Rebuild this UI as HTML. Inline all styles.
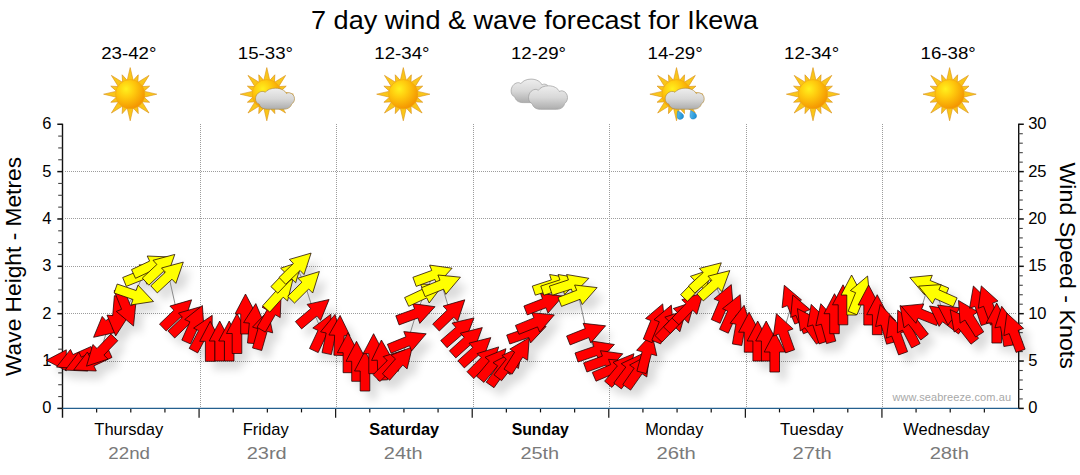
<!DOCTYPE html>
<html><head><meta charset="utf-8"><title>7 day wind &amp; wave forecast</title>
<style>html,body{margin:0;padding:0;background:#fff;}body{width:1080px;height:475px;overflow:hidden;font-family:"Liberation Sans",sans-serif;}svg{display:block;font-family:"Liberation Sans",sans-serif;}</style></head><body>
<svg width="1080" height="475" viewBox="0 0 1080 475">
<defs>
<radialGradient id="sunG" cx="0.36" cy="0.32" r="0.72"><stop offset="0" stop-color="#fff01e"/><stop offset="0.4" stop-color="#ffcb0e"/><stop offset="1" stop-color="#f39200"/></radialGradient>
<linearGradient id="rayG" gradientUnits="userSpaceOnUse" x1="-20" y1="-20" x2="20" y2="20"><stop offset="0" stop-color="#fdd41a"/><stop offset="1" stop-color="#f2a216"/></linearGradient>
<linearGradient id="cloudG" x1="0" y1="0" x2="0" y2="1"><stop offset="0" stop-color="#eeeeee"/><stop offset="0.5" stop-color="#d8d8d8"/><stop offset="1" stop-color="#adadad"/></linearGradient>
<linearGradient id="dropG" x1="0" y1="0" x2="1" y2="1"><stop offset="0" stop-color="#6cc8f5"/><stop offset="1" stop-color="#0f86cf"/></linearGradient>
<filter id="sh" x="-5%" y="-20%" width="110%" height="150%"><feGaussianBlur stdDeviation="4.2"/></filter>
<filter id="ib" x="-20%" y="-20%" width="140%" height="140%"><feGaussianBlur stdDeviation="0.45"/></filter>

<g id="sun"><g fill="url(#rayG)" stroke="#d9901a" stroke-width="0.6" stroke-linejoin="round"><polygon points="-3.3,-12.5 0,-26.6 3.3,-12.5" transform="rotate(0.0)"/><polygon points="-3.0,-12.5 0,-21.0 3.0,-12.5" transform="rotate(22.5)"/><polygon points="-3.3,-12.5 0,-26.6 3.3,-12.5" transform="rotate(45.0)"/><polygon points="-3.0,-12.5 0,-21.0 3.0,-12.5" transform="rotate(67.5)"/><polygon points="-3.3,-12.5 0,-26.6 3.3,-12.5" transform="rotate(90.0)"/><polygon points="-3.0,-12.5 0,-21.0 3.0,-12.5" transform="rotate(112.5)"/><polygon points="-3.3,-12.5 0,-26.6 3.3,-12.5" transform="rotate(135.0)"/><polygon points="-3.0,-12.5 0,-21.0 3.0,-12.5" transform="rotate(157.5)"/><polygon points="-3.3,-12.5 0,-26.6 3.3,-12.5" transform="rotate(180.0)"/><polygon points="-3.0,-12.5 0,-21.0 3.0,-12.5" transform="rotate(202.5)"/><polygon points="-3.3,-12.5 0,-26.6 3.3,-12.5" transform="rotate(225.0)"/><polygon points="-3.0,-12.5 0,-21.0 3.0,-12.5" transform="rotate(247.5)"/><polygon points="-3.3,-12.5 0,-26.6 3.3,-12.5" transform="rotate(270.0)"/><polygon points="-3.0,-12.5 0,-21.0 3.0,-12.5" transform="rotate(292.5)"/><polygon points="-3.3,-12.5 0,-26.6 3.3,-12.5" transform="rotate(315.0)"/><polygon points="-3.0,-12.5 0,-21.0 3.0,-12.5" transform="rotate(337.5)"/></g><circle r="14.6" fill="url(#sunG)" stroke="#eea214" stroke-width="0.5"/></g>
<path id="cloud" d="M12,23.5 C7,23.5 4.5,21 3.8,18 C1.5,17 0,14.8 0,12 C0,8 2.5,4.2 6.5,3.6 C8,3.4 9,3.9 9.8,4.6 C11.5,1.8 15.5,0 19.9,0 C25.5,0 29.6,2.6 30.9,5.8 C32,5 33,4.9 34,5.1 C37,5.7 39,8.5 39,11.8 C39,14.5 37.8,16.6 36,17.8 C35.6,21 32.5,23.5 28,23.5 Z"/>
<path id="drop" d="M0,-4.4 C2.4,-1.5 3.3,0.3 3.3,1.7 C3.3,3.5 1.8,4.7 0,4.7 C-1.8,4.7 -3.3,3.5 -3.3,1.7 C-3.3,0.3 -2,-1.8 0,-4.4 Z" transform="rotate(-25)"/>
</defs>
<rect width="1080" height="475" fill="#fff"/>
<text x="534.5" y="29.3" font-size="26.7" text-anchor="middle" textLength="447" lengthAdjust="spacingAndGlyphs" fill="#000">7 day wind &amp; wave forecast for Ikewa</text>
<text x="128.8" y="59.2" font-size="17.3" text-anchor="middle" textLength="55.2" lengthAdjust="spacingAndGlyphs" fill="#000">23-42°</text>
<use href="#sun" x="130.2" y="94.2"/>
<text x="265.4" y="59.2" font-size="17.3" text-anchor="middle" textLength="55.2" lengthAdjust="spacingAndGlyphs" fill="#000">15-33°</text>
<use href="#sun" x="266.8" y="94.2"/>
<use href="#cloud" transform="translate(255.5,88.2) scale(1,0.894)" fill="url(#cloudG)" stroke="#b08a3a" stroke-width="0.7"/>
<text x="401.9" y="59.2" font-size="17.3" text-anchor="middle" textLength="55.2" lengthAdjust="spacingAndGlyphs" fill="#000">12-34°</text>
<use href="#sun" x="403.3" y="94.2"/>
<text x="538.5" y="59.2" font-size="17.3" text-anchor="middle" textLength="55.2" lengthAdjust="spacingAndGlyphs" fill="#000">12-29°</text>
<use href="#cloud" x="511.1" y="79.1" fill="url(#cloudG)" stroke="#9c9c9c" stroke-width="0.7"/>
<use href="#cloud" x="528.5" y="85.8" fill="url(#cloudG)" stroke="#9c9c9c" stroke-width="0.7"/>
<text x="675.1" y="59.2" font-size="17.3" text-anchor="middle" textLength="55.2" lengthAdjust="spacingAndGlyphs" fill="#000">14-29°</text>
<use href="#sun" x="676.5" y="94.2"/>
<use href="#cloud" transform="translate(665.2,88.2) scale(1,0.894)" fill="url(#cloudG)" stroke="#b08a3a" stroke-width="0.7"/>
<use href="#drop" x="679.6" y="114.8" fill="url(#dropG)" stroke="#1b78b8" stroke-width="0.4"/>
<use href="#drop" x="692.6" y="114.5" fill="url(#dropG)" stroke="#1b78b8" stroke-width="0.4"/>
<text x="811.6" y="59.2" font-size="17.3" text-anchor="middle" textLength="55.2" lengthAdjust="spacingAndGlyphs" fill="#000">12-34°</text>
<use href="#sun" x="813.0" y="94.2"/>
<text x="948.2" y="59.2" font-size="17.3" text-anchor="middle" textLength="55.2" lengthAdjust="spacingAndGlyphs" fill="#000">16-38°</text>
<use href="#sun" x="949.6" y="94.2"/>
<g stroke="#9c9c9c" stroke-width="1" stroke-dasharray="1,1" fill="none" shape-rendering="crispEdges">
<line x1="65" y1="361.5" x2="1017" y2="361.5"/>
<line x1="65" y1="313.5" x2="1017" y2="313.5"/>
<line x1="65" y1="266.5" x2="1017" y2="266.5"/>
<line x1="65" y1="218.5" x2="1017" y2="218.5"/>
<line x1="65" y1="171.5" x2="1017" y2="171.5"/>
<line x1="200.5" y1="124" x2="200.5" y2="408"/>
<line x1="336.5" y1="124" x2="336.5" y2="408"/>
<line x1="473.5" y1="124" x2="473.5" y2="408"/>
<line x1="609.5" y1="124" x2="609.5" y2="408"/>
<line x1="746.5" y1="124" x2="746.5" y2="408"/>
<line x1="882.5" y1="124" x2="882.5" y2="408"/>
</g>
<g stroke="#111" stroke-width="1.4" fill="none">
<line x1="62.5" y1="123.65" x2="62.5" y2="417.7"/>
<line x1="1018.7" y1="123.65" x2="1018.7" y2="409.0"/>
</g>
<g stroke="#111" stroke-width="1.2" fill="none">
<line x1="57.3" y1="408.40" x2="62.5" y2="408.40" stroke-width="1.5"/>
<line x1="58.2" y1="396.56" x2="62.5" y2="396.56" stroke="#444" stroke-width="1.1"/>
<line x1="58.2" y1="384.72" x2="62.5" y2="384.72" stroke="#444" stroke-width="1.1"/>
<line x1="58.2" y1="372.88" x2="62.5" y2="372.88" stroke="#444" stroke-width="1.1"/>
<line x1="57.3" y1="361.04" x2="62.5" y2="361.04" stroke-width="1.5"/>
<line x1="58.2" y1="349.20" x2="62.5" y2="349.20" stroke="#444" stroke-width="1.1"/>
<line x1="58.2" y1="337.36" x2="62.5" y2="337.36" stroke="#444" stroke-width="1.1"/>
<line x1="58.2" y1="325.52" x2="62.5" y2="325.52" stroke="#444" stroke-width="1.1"/>
<line x1="57.3" y1="313.68" x2="62.5" y2="313.68" stroke-width="1.5"/>
<line x1="58.2" y1="301.84" x2="62.5" y2="301.84" stroke="#444" stroke-width="1.1"/>
<line x1="58.2" y1="290.00" x2="62.5" y2="290.00" stroke="#444" stroke-width="1.1"/>
<line x1="58.2" y1="278.16" x2="62.5" y2="278.16" stroke="#444" stroke-width="1.1"/>
<line x1="57.3" y1="266.32" x2="62.5" y2="266.32" stroke-width="1.5"/>
<line x1="58.2" y1="254.49" x2="62.5" y2="254.49" stroke="#444" stroke-width="1.1"/>
<line x1="58.2" y1="242.65" x2="62.5" y2="242.65" stroke="#444" stroke-width="1.1"/>
<line x1="58.2" y1="230.81" x2="62.5" y2="230.81" stroke="#444" stroke-width="1.1"/>
<line x1="57.3" y1="218.97" x2="62.5" y2="218.97" stroke-width="1.5"/>
<line x1="58.2" y1="207.13" x2="62.5" y2="207.13" stroke="#444" stroke-width="1.1"/>
<line x1="58.2" y1="195.29" x2="62.5" y2="195.29" stroke="#444" stroke-width="1.1"/>
<line x1="58.2" y1="183.45" x2="62.5" y2="183.45" stroke="#444" stroke-width="1.1"/>
<line x1="57.3" y1="171.61" x2="62.5" y2="171.61" stroke-width="1.5"/>
<line x1="58.2" y1="159.77" x2="62.5" y2="159.77" stroke="#444" stroke-width="1.1"/>
<line x1="58.2" y1="147.93" x2="62.5" y2="147.93" stroke="#444" stroke-width="1.1"/>
<line x1="58.2" y1="136.09" x2="62.5" y2="136.09" stroke="#444" stroke-width="1.1"/>
<line x1="57.3" y1="124.25" x2="62.5" y2="124.25" stroke-width="1.5"/>
<line x1="1018.5" y1="408.40" x2="1023.8" y2="408.40" stroke-width="1.5"/>
<line x1="1018.5" y1="398.93" x2="1022.8" y2="398.93" stroke="#444" stroke-width="1.1"/>
<line x1="1018.5" y1="389.46" x2="1022.8" y2="389.46" stroke="#444" stroke-width="1.1"/>
<line x1="1018.5" y1="379.98" x2="1022.8" y2="379.98" stroke="#444" stroke-width="1.1"/>
<line x1="1018.5" y1="370.51" x2="1022.8" y2="370.51" stroke="#444" stroke-width="1.1"/>
<line x1="1018.5" y1="361.04" x2="1023.8" y2="361.04" stroke-width="1.5"/>
<line x1="1018.5" y1="351.57" x2="1022.8" y2="351.57" stroke="#444" stroke-width="1.1"/>
<line x1="1018.5" y1="342.10" x2="1022.8" y2="342.10" stroke="#444" stroke-width="1.1"/>
<line x1="1018.5" y1="332.63" x2="1022.8" y2="332.63" stroke="#444" stroke-width="1.1"/>
<line x1="1018.5" y1="323.15" x2="1022.8" y2="323.15" stroke="#444" stroke-width="1.1"/>
<line x1="1018.5" y1="313.68" x2="1023.8" y2="313.68" stroke-width="1.5"/>
<line x1="1018.5" y1="304.21" x2="1022.8" y2="304.21" stroke="#444" stroke-width="1.1"/>
<line x1="1018.5" y1="294.74" x2="1022.8" y2="294.74" stroke="#444" stroke-width="1.1"/>
<line x1="1018.5" y1="285.27" x2="1022.8" y2="285.27" stroke="#444" stroke-width="1.1"/>
<line x1="1018.5" y1="275.80" x2="1022.8" y2="275.80" stroke="#444" stroke-width="1.1"/>
<line x1="1018.5" y1="266.32" x2="1023.8" y2="266.32" stroke-width="1.5"/>
<line x1="1018.5" y1="256.85" x2="1022.8" y2="256.85" stroke="#444" stroke-width="1.1"/>
<line x1="1018.5" y1="247.38" x2="1022.8" y2="247.38" stroke="#444" stroke-width="1.1"/>
<line x1="1018.5" y1="237.91" x2="1022.8" y2="237.91" stroke="#444" stroke-width="1.1"/>
<line x1="1018.5" y1="228.44" x2="1022.8" y2="228.44" stroke="#444" stroke-width="1.1"/>
<line x1="1018.5" y1="218.97" x2="1023.8" y2="218.97" stroke-width="1.5"/>
<line x1="1018.5" y1="209.49" x2="1022.8" y2="209.49" stroke="#444" stroke-width="1.1"/>
<line x1="1018.5" y1="200.02" x2="1022.8" y2="200.02" stroke="#444" stroke-width="1.1"/>
<line x1="1018.5" y1="190.55" x2="1022.8" y2="190.55" stroke="#444" stroke-width="1.1"/>
<line x1="1018.5" y1="181.08" x2="1022.8" y2="181.08" stroke="#444" stroke-width="1.1"/>
<line x1="1018.5" y1="171.61" x2="1023.8" y2="171.61" stroke-width="1.5"/>
<line x1="1018.5" y1="162.14" x2="1022.8" y2="162.14" stroke="#444" stroke-width="1.1"/>
<line x1="1018.5" y1="152.66" x2="1022.8" y2="152.66" stroke="#444" stroke-width="1.1"/>
<line x1="1018.5" y1="143.19" x2="1022.8" y2="143.19" stroke="#444" stroke-width="1.1"/>
<line x1="1018.5" y1="133.72" x2="1022.8" y2="133.72" stroke="#444" stroke-width="1.1"/>
<line x1="1018.5" y1="124.25" x2="1023.8" y2="124.25" stroke-width="1.5"/>
<line x1="96.64" y1="408.4" x2="96.64" y2="412.4"/>
<line x1="130.79" y1="408.4" x2="130.79" y2="412.4"/>
<line x1="164.93" y1="408.4" x2="164.93" y2="412.4"/>
<line x1="199.07" y1="408.4" x2="199.07" y2="417.7"/>
<line x1="233.21" y1="408.4" x2="233.21" y2="412.4"/>
<line x1="267.36" y1="408.4" x2="267.36" y2="412.4"/>
<line x1="301.50" y1="408.4" x2="301.50" y2="412.4"/>
<line x1="335.64" y1="408.4" x2="335.64" y2="417.7"/>
<line x1="369.79" y1="408.4" x2="369.79" y2="412.4"/>
<line x1="403.93" y1="408.4" x2="403.93" y2="412.4"/>
<line x1="438.07" y1="408.4" x2="438.07" y2="412.4"/>
<line x1="472.21" y1="408.4" x2="472.21" y2="417.7"/>
<line x1="506.36" y1="408.4" x2="506.36" y2="412.4"/>
<line x1="540.50" y1="408.4" x2="540.50" y2="412.4"/>
<line x1="574.64" y1="408.4" x2="574.64" y2="412.4"/>
<line x1="608.79" y1="408.4" x2="608.79" y2="417.7"/>
<line x1="642.93" y1="408.4" x2="642.93" y2="412.4"/>
<line x1="677.07" y1="408.4" x2="677.07" y2="412.4"/>
<line x1="711.21" y1="408.4" x2="711.21" y2="412.4"/>
<line x1="745.36" y1="408.4" x2="745.36" y2="417.7"/>
<line x1="779.50" y1="408.4" x2="779.50" y2="412.4"/>
<line x1="813.64" y1="408.4" x2="813.64" y2="412.4"/>
<line x1="847.79" y1="408.4" x2="847.79" y2="412.4"/>
<line x1="881.93" y1="408.4" x2="881.93" y2="417.7"/>
<line x1="916.07" y1="408.4" x2="916.07" y2="412.4"/>
<line x1="950.21" y1="408.4" x2="950.21" y2="412.4"/>
<line x1="984.36" y1="408.4" x2="984.36" y2="412.4"/>
</g>
<line x1="62.5" y1="408.4" x2="1018.5" y2="408.4" stroke="#24608f" stroke-width="1.2"/>
<text x="51.4" y="413.3" font-size="16.5" text-anchor="end" fill="#000">0</text>
<text x="1028.2" y="413.3" font-size="16.5" fill="#000">0</text>
<text x="51.4" y="365.9" font-size="16.5" text-anchor="end" fill="#000">1</text>
<text x="1028.2" y="365.9" font-size="16.5" fill="#000">5</text>
<text x="51.4" y="318.6" font-size="16.5" text-anchor="end" fill="#000">2</text>
<text x="1028.2" y="318.6" font-size="16.5" fill="#000">10</text>
<text x="51.4" y="271.2" font-size="16.5" text-anchor="end" fill="#000">3</text>
<text x="1028.2" y="271.2" font-size="16.5" fill="#000">15</text>
<text x="51.4" y="223.9" font-size="16.5" text-anchor="end" fill="#000">4</text>
<text x="1028.2" y="223.9" font-size="16.5" fill="#000">20</text>
<text x="51.4" y="176.5" font-size="16.5" text-anchor="end" fill="#000">5</text>
<text x="1028.2" y="176.5" font-size="16.5" fill="#000">25</text>
<text x="51.4" y="129.2" font-size="16.5" text-anchor="end" fill="#000">6</text>
<text x="1028.2" y="129.2" font-size="16.5" fill="#000">30</text>
<text transform="translate(20.5,376) rotate(-90)" font-size="22.67" textLength="219" lengthAdjust="spacingAndGlyphs" fill="#000">Wave Height - Metres</text>
<text transform="translate(1059.5,162.4) rotate(90)" font-size="22.67" textLength="206.5" lengthAdjust="spacingAndGlyphs" fill="#000">Wind Speed - Knots</text>
<text x="128.8" y="435" font-size="16.4" text-anchor="middle" textLength="69" lengthAdjust="spacingAndGlyphs" fill="#000">Thursday</text>
<text x="129.2" y="458.6" font-size="17.3" text-anchor="middle" textLength="41.7" lengthAdjust="spacingAndGlyphs" fill="#7a7a7a">22nd</text>
<text x="265.7" y="435" font-size="16.4" text-anchor="middle" textLength="46" lengthAdjust="spacingAndGlyphs" fill="#000">Friday</text>
<text x="266.7" y="458.6" font-size="17.3" text-anchor="middle" textLength="40" lengthAdjust="spacingAndGlyphs" fill="#7a7a7a">23rd</text>
<text x="404.2" y="435" font-size="16.4" text-anchor="middle" textLength="69.7" lengthAdjust="spacingAndGlyphs" font-weight="bold" fill="#000">Saturday</text>
<text x="403.2" y="458.6" font-size="17.3" text-anchor="middle" textLength="38.8" lengthAdjust="spacingAndGlyphs" fill="#7a7a7a">24th</text>
<text x="540.2" y="435" font-size="16.4" text-anchor="middle" textLength="57" lengthAdjust="spacingAndGlyphs" font-weight="bold" fill="#000">Sunday</text>
<text x="539.8" y="458.6" font-size="17.3" text-anchor="middle" textLength="38.8" lengthAdjust="spacingAndGlyphs" fill="#7a7a7a">25th</text>
<text x="674.3" y="435" font-size="16.4" text-anchor="middle" textLength="58.1" lengthAdjust="spacingAndGlyphs" fill="#000">Monday</text>
<text x="676.1" y="458.6" font-size="17.3" text-anchor="middle" textLength="39.4" lengthAdjust="spacingAndGlyphs" fill="#7a7a7a">26th</text>
<text x="811.7" y="435" font-size="16.4" text-anchor="middle" textLength="63.3" lengthAdjust="spacingAndGlyphs" fill="#000">Tuesday</text>
<text x="812.2" y="458.6" font-size="17.3" text-anchor="middle" textLength="39.3" lengthAdjust="spacingAndGlyphs" fill="#7a7a7a">27th</text>
<text x="946.5" y="435" font-size="16.4" text-anchor="middle" textLength="86.3" lengthAdjust="spacingAndGlyphs" fill="#000">Wednesday</text>
<text x="949.3" y="458.6" font-size="17.3" text-anchor="middle" textLength="39.3" lengthAdjust="spacingAndGlyphs" fill="#7a7a7a">28th</text>
<text x="892.5" y="401.3" font-size="11" textLength="118.5" lengthAdjust="spacing" fill="#a8a8a8">www.seabreeze.com.au</text>
<g filter="url(#sh)" fill="#000" opacity="0.14" transform="translate(7.5,8.5)"><polygon points="46.3,360.3 66.3,349.8 66.3,355.5 86.3,355.5 86.3,365.1 66.3,365.1 66.3,370.8"/><polygon points="56.5,367.1 70.5,349.4 72.9,354.6 91.1,346.5 95.0,355.3 76.8,363.4 79.1,368.6"/><polygon points="65.2,370.1 78.9,352.1 81.3,357.2 99.4,348.8 103.5,357.5 85.4,366.0 87.8,371.1"/><polygon points="73.7,370.0 87.4,352.0 89.8,357.1 108.0,348.7 112.0,357.4 93.9,365.9 96.3,371.0"/><polygon points="86.5,366.2 92.9,344.5 97.0,348.5 110.9,334.1 117.8,340.7 103.9,355.1 108.0,359.1"/><polygon points="93.6,337.3 102.2,316.4 105.9,320.7 121.2,307.9 127.4,315.2 112.0,328.1 115.7,332.4"/><polygon points="115.7,335.9 107.0,315.1 112.7,315.6 114.4,295.7 124.0,296.5 122.3,316.4 127.9,316.9"/><polygon points="133.5,326.0 116.3,311.4 121.6,309.3 114.1,290.8 123.0,287.2 130.5,305.7 135.8,303.6"/><polygon points="153.5,301.5 131.1,304.9 133.0,299.5 114.1,293.0 117.2,284.0 136.1,290.5 138.0,285.1"/><polygon points="161.6,267.0 147.0,284.2 144.9,279.0 126.3,286.4 122.7,277.5 141.3,270.0 139.2,264.8"/><polygon points="169.8,257.0 156.1,275.0 153.7,269.9 135.5,278.3 131.5,269.6 149.6,261.1 147.2,256.0"/><polygon points="174.8,254.4 167.3,275.7 163.4,271.5 148.8,285.2 142.3,278.1 156.9,264.5 153.0,260.3"/><polygon points="183.3,262.1 175.9,283.4 172.0,279.2 157.3,292.9 150.8,285.8 165.4,272.2 161.5,268.0"/><polygon points="191.6,299.8 184.5,321.3 180.6,317.2 166.2,331.0 159.5,324.1 173.9,310.2 169.9,306.1"/><polygon points="200.2,306.8 193.1,328.3 189.1,324.2 174.7,338.0 168.0,331.1 182.4,317.2 178.5,313.1"/><polygon points="202.4,305.5 203.9,328.1 198.7,325.8 190.6,344.0 181.8,340.1 189.9,321.8 184.7,319.5"/><polygon points="212.2,315.3 212.1,337.9 207.1,335.3 197.7,352.9 189.2,348.4 198.6,330.7 193.6,328.1"/><polygon points="210.2,321.3 220.7,341.3 215.0,341.3 215.0,361.3 205.4,361.3 205.4,341.3 199.7,341.3"/><polygon points="219.7,321.0 230.2,341.0 224.5,341.0 224.5,361.0 214.9,361.0 214.9,341.0 209.2,341.0"/><polygon points="229.2,321.0 239.7,341.0 234.0,341.0 234.0,361.0 224.4,361.0 224.4,341.0 218.7,341.0"/><polygon points="237.0,313.5 247.5,333.5 241.8,333.5 241.8,353.5 232.2,353.5 232.2,333.5 226.5,333.5"/><polygon points="245.5,294.0 256.0,314.0 250.3,314.0 250.3,334.0 240.7,334.0 240.7,314.0 235.0,314.0"/><polygon points="255.8,303.6 264.5,324.4 258.8,323.9 257.1,343.8 247.5,343.0 249.3,323.1 243.6,322.6"/><polygon points="268.1,310.8 272.7,332.9 267.2,331.3 261.7,350.5 252.5,347.9 258.0,328.7 252.5,327.1"/><polygon points="281.1,295.1 280.2,317.6 275.3,314.8 265.3,332.1 257.0,327.3 267.0,310.0 262.0,307.1"/><polygon points="293.0,279.1 287.5,301.0 283.2,297.2 269.8,312.1 262.7,305.7 276.1,290.8 271.9,287.0"/><polygon points="302.1,261.1 295.7,282.8 291.6,278.8 277.8,293.2 270.9,286.6 284.7,272.2 280.6,268.2"/><polygon points="311.1,253.1 304.0,274.6 300.1,270.5 285.7,284.3 279.0,277.4 293.4,263.5 289.4,259.4"/><polygon points="319.4,271.5 312.7,293.0 308.7,289.0 294.5,303.1 287.7,296.3 301.9,282.2 297.8,278.2"/><polygon points="329.1,299.5 320.6,320.4 316.9,316.1 301.6,328.9 295.4,321.6 310.7,308.7 307.1,304.4"/><polygon points="330.8,314.3 331.9,336.8 326.7,334.4 318.2,352.6 309.5,348.5 318.0,330.4 312.8,328.0"/><polygon points="335.0,314.4 341.1,336.2 335.6,335.0 331.4,354.6 322.0,352.6 326.2,333.0 320.6,331.8"/><polygon points="340.1,315.4 349.9,335.8 344.2,335.6 343.5,355.6 333.9,355.2 334.6,335.2 328.9,335.0"/><polygon points="347.9,332.7 358.4,352.7 352.7,352.7 352.7,372.7 343.1,372.7 343.1,352.7 337.4,352.7"/><polygon points="356.5,341.3 367.0,361.3 361.3,361.3 361.3,381.3 351.7,381.3 351.7,361.3 346.0,361.3"/><polygon points="365.0,351.0 375.5,371.0 369.8,371.0 369.8,391.0 360.2,391.0 360.2,371.0 354.5,371.0"/><polygon points="373.6,333.7 384.1,353.7 378.4,353.7 378.4,373.7 368.8,373.7 368.8,353.7 363.1,353.7"/><polygon points="381.4,340.0 392.6,359.6 386.9,359.8 387.6,379.8 378.0,380.2 377.3,360.2 371.6,360.4"/><polygon points="404.8,349.9 398.0,371.4 394.0,367.4 379.9,381.5 373.1,374.7 387.2,360.6 383.2,356.6"/><polygon points="412.3,346.9 407.1,368.9 402.8,365.1 389.7,380.2 382.4,373.9 395.5,358.9 391.2,355.1"/><polygon points="426.2,333.8 411.6,351.0 409.5,345.8 391.0,353.2 387.4,344.3 405.9,336.8 403.8,331.6"/><polygon points="435.0,306.7 419.8,323.4 417.9,318.0 399.1,324.9 395.8,315.8 414.6,309.0 412.6,303.6"/><polygon points="442.9,285.0 429.2,303.0 426.8,297.9 408.7,306.3 404.6,297.6 422.7,289.1 420.3,284.0"/><polygon points="452.1,268.2 436.9,284.9 434.9,279.5 416.2,286.4 412.9,277.3 431.7,270.5 429.7,265.1"/><polygon points="460.4,277.2 445.8,294.4 443.6,289.2 425.1,296.6 421.5,287.7 440.0,280.2 437.9,275.0"/><polygon points="464.8,299.8 457.7,321.3 453.7,317.2 439.3,331.0 432.7,324.1 447.0,310.2 443.1,306.1"/><polygon points="474.0,317.9 465.8,338.9 462.1,334.6 447.0,347.7 440.7,340.5 455.8,327.4 452.0,323.1"/><polygon points="482.3,327.6 474.5,348.8 470.7,344.6 455.8,357.9 449.4,350.8 464.2,337.4 460.4,333.2"/><polygon points="490.8,337.6 483.0,358.8 479.2,354.6 464.3,367.9 457.9,360.8 472.8,347.4 469.0,343.2"/><polygon points="498.7,346.9 491.9,368.4 487.9,364.4 473.8,378.5 467.0,371.7 481.1,357.6 477.1,353.6"/><polygon points="505.9,348.7 501.1,370.7 496.7,367.1 483.9,382.4 476.5,376.2 489.4,360.9 485.0,357.3"/><polygon points="513.1,352.2 510.2,374.6 505.5,371.4 494.0,387.7 486.2,382.2 497.7,365.8 493.0,362.6"/><polygon points="522.4,346.2 518.4,368.5 513.9,365.0 501.6,380.7 494.0,374.8 506.3,359.0 501.9,355.5"/><polygon points="529.3,337.7 527.6,360.3 522.7,357.2 512.1,374.2 504.0,369.1 514.6,352.2 509.8,349.1"/><polygon points="546.1,326.5 530.6,342.9 528.8,337.5 509.8,344.0 506.7,335.0 525.6,328.5 523.8,323.1"/><polygon points="554.3,314.9 539.7,332.1 537.5,326.9 519.0,334.3 515.4,325.4 533.9,317.9 531.8,312.7"/><polygon points="562.9,296.1 548.0,313.1 546.0,307.8 527.3,314.9 523.9,306.0 542.5,298.8 540.5,293.5"/><polygon points="571.8,278.3 556.0,294.5 554.3,289.1 535.3,295.2 532.3,286.1 551.3,279.9 549.6,274.5"/><polygon points="580.4,278.3 564.6,294.5 562.8,289.1 543.8,295.2 540.8,286.1 559.9,279.9 558.1,274.5"/><polygon points="588.9,278.3 573.1,294.5 571.4,289.1 552.3,295.2 549.4,286.1 568.4,279.9 566.6,274.5"/><polygon points="597.1,287.6 582.2,304.6 580.1,299.3 561.5,306.4 558.0,297.5 576.7,290.3 574.6,285.0"/><polygon points="605.6,325.8 590.8,342.9 588.7,337.6 570.1,344.9 566.6,336.0 585.2,328.6 583.1,323.3"/><polygon points="614.4,344.5 598.9,360.9 597.0,355.5 578.1,362.0 575.0,353.0 593.9,346.5 592.1,341.1"/><polygon points="622.8,353.8 607.6,370.5 605.7,365.1 586.9,372.0 583.6,362.9 602.4,356.1 600.4,350.7"/><polygon points="631.0,361.2 616.7,378.7 614.4,373.4 596.0,381.2 592.3,372.4 610.7,364.6 608.5,359.3"/><polygon points="633.9,353.7 629.1,375.7 624.8,372.1 611.9,387.4 604.6,381.2 617.4,365.9 613.0,362.3"/><polygon points="641.7,354.0 638.0,376.3 633.5,372.9 621.4,388.9 613.8,383.1 625.8,367.1 621.2,363.7"/><polygon points="649.6,354.6 646.8,377.0 642.1,373.8 630.6,390.1 622.8,384.6 634.2,368.2 629.6,365.0"/><polygon points="651.9,333.7 656.8,355.7 651.3,354.2 646.2,373.6 636.9,371.1 642.1,351.8 636.6,350.3"/><polygon points="662.7,303.9 665.0,326.3 659.7,324.2 652.2,342.7 643.3,339.1 650.8,320.6 645.5,318.5"/><polygon points="671.3,305.1 673.5,327.5 668.2,325.4 660.7,343.9 651.8,340.3 659.3,321.8 654.0,319.7"/><polygon points="686.2,310.1 679.9,331.8 675.8,327.8 661.9,342.2 655.0,335.6 668.9,321.2 664.8,317.2"/><polygon points="694.7,301.4 688.4,323.1 684.3,319.1 670.4,333.5 663.5,326.9 677.4,312.5 673.3,308.5"/><polygon points="703.3,292.6 696.9,314.3 692.8,310.3 678.9,324.7 672.0,318.1 685.9,303.7 681.8,299.7"/><polygon points="711.8,269.2 705.5,290.9 701.4,286.9 687.5,301.3 680.6,294.7 694.5,280.3 690.4,276.3"/><polygon points="721.3,262.8 713.5,284.0 709.7,279.8 694.8,293.1 688.4,286.0 703.2,272.6 699.4,268.4"/><polygon points="729.8,270.6 722.0,291.8 718.2,287.6 703.3,300.9 696.9,293.8 711.8,280.4 708.0,276.2"/><polygon points="731.3,284.6 733.2,307.1 727.9,304.9 720.1,323.3 711.3,319.5 719.1,301.1 713.9,298.9"/><polygon points="740.2,294.7 741.6,317.3 736.4,315.0 728.3,333.2 719.5,329.3 727.7,311.0 722.5,308.7"/><polygon points="744.1,305.3 750.9,326.8 745.3,325.8 741.8,345.5 732.4,343.9 735.9,324.2 730.2,323.2"/><polygon points="749.1,312.2 759.6,332.2 753.9,332.2 753.9,352.2 744.3,352.2 744.3,332.2 738.6,332.2"/><polygon points="757.7,321.0 768.2,341.0 762.5,341.0 762.5,361.0 752.9,361.0 752.9,341.0 747.2,341.0"/><polygon points="766.2,321.0 776.7,341.0 771.0,341.0 771.0,361.0 761.4,361.0 761.4,341.0 755.7,341.0"/><polygon points="774.7,332.0 785.2,352.0 779.5,352.0 779.5,372.0 769.9,372.0 769.9,352.0 764.2,352.0"/><polygon points="776.4,313.7 793.1,328.9 787.8,330.9 794.6,349.7 785.6,352.9 778.8,334.1 773.4,336.1"/><polygon points="784.3,285.3 801.5,299.9 796.3,302.0 803.7,320.5 794.8,324.1 787.4,305.6 782.1,307.7"/><polygon points="792.8,295.0 810.1,309.6 804.8,311.7 812.3,330.2 803.4,333.8 795.9,315.3 790.6,317.4"/><polygon points="797.4,308.6 817.5,319.0 812.8,322.2 824.3,338.6 816.4,344.1 804.9,327.8 800.3,331.0"/><polygon points="811.2,304.4 827.4,320.2 822.0,321.9 828.2,340.9 819.0,343.9 812.8,324.9 807.4,326.6"/><polygon points="820.8,303.7 836.1,320.3 830.6,321.8 835.8,341.1 826.5,343.6 821.3,324.2 815.8,325.7"/><polygon points="834.5,293.7 845.0,313.7 839.3,313.7 839.3,333.7 829.7,333.7 829.7,313.7 824.0,313.7"/><polygon points="843.0,284.8 853.5,304.8 847.8,304.8 847.8,324.8 838.2,324.8 838.2,304.8 832.5,304.8"/><polygon points="851.6,275.0 862.1,295.0 856.4,295.0 856.4,315.0 846.8,315.0 846.8,295.0 841.1,295.0"/><polygon points="867.6,276.0 869.8,298.4 864.5,296.3 857.0,314.8 848.1,311.2 855.6,292.7 850.4,290.6"/><polygon points="868.6,285.0 879.1,305.0 873.4,305.0 873.4,325.0 863.8,325.0 863.8,305.0 858.1,305.0"/><polygon points="877.2,294.7 887.7,314.7 882.0,314.7 882.0,334.7 872.4,334.7 872.4,314.7 866.7,314.7"/><polygon points="880.2,304.5 895.8,320.8 890.3,322.4 895.8,341.6 886.6,344.2 881.1,325.0 875.6,326.6"/><polygon points="889.4,315.7 906.1,330.9 900.7,332.9 907.6,351.7 898.6,354.9 891.7,336.1 886.4,338.1"/><polygon points="897.7,310.2 916.1,323.2 911.0,325.8 920.1,343.6 911.6,348.0 902.5,330.2 897.4,332.8"/><polygon points="900.0,305.5 920.6,314.8 916.1,318.3 928.4,334.1 920.8,340.0 908.5,324.3 904.0,327.8"/><polygon points="901.3,306.1 923.8,303.9 921.6,309.1 940.2,316.6 936.6,325.5 918.0,318.1 915.9,323.3"/><polygon points="909.8,277.5 932.3,275.3 930.2,280.5 948.7,288.0 945.1,296.9 926.6,289.5 924.4,294.7"/><polygon points="918.6,286.1 941.2,284.6 938.9,289.8 957.1,297.9 953.2,306.7 935.0,298.6 932.6,303.8"/><polygon points="929.5,306.0 951.8,309.6 948.3,314.2 964.3,326.2 958.5,333.9 942.6,321.8 939.1,326.4"/><polygon points="937.6,305.0 960.0,307.9 956.7,312.6 973.1,324.0 967.6,331.9 951.2,320.4 948.0,325.1"/><polygon points="950.2,309.7 970.8,319.0 966.3,322.5 978.6,338.3 971.0,344.2 958.7,328.5 954.2,332.0"/><polygon points="958.5,300.5 978.0,311.9 973.1,315.0 983.7,331.9 975.6,337.0 965.0,320.0 960.1,323.1"/><polygon points="973.4,286.0 989.6,301.8 984.2,303.5 990.3,322.5 981.2,325.5 975.0,306.5 969.6,308.2"/><polygon points="981.3,285.9 998.0,301.1 992.6,303.1 999.5,321.9 990.5,325.1 983.6,306.3 978.3,308.3"/><polygon points="996.7,303.0 1007.2,323.0 1001.5,323.0 1001.5,343.0 991.9,343.0 991.9,323.0 986.2,323.0"/><polygon points="1001.7,306.3 1015.5,324.2 1009.9,325.2 1013.4,344.9 1003.9,346.5 1000.5,326.8 994.9,327.8"/><polygon points="1006.9,313.2 1023.6,328.4 1018.2,330.4 1025.1,349.2 1016.1,352.4 1009.2,333.6 1003.9,335.6"/></g>
<polyline fill="none" stroke="#8a8a8a" stroke-width="1" points="66.3,360.3 74.8,359.0 83.3,361.6 91.9,361.5 100.4,351.8 108.9,324.4 117.5,316.0 126.0,307.5 134.6,295.0 143.1,274.5 151.6,265.5 160.2,268.0 168.7,275.7 177.2,313.7 185.8,320.7 194.3,323.8 202.8,333.0 210.2,341.3 219.7,341.0 229.2,341.0 237.0,333.5 245.5,314.0 254.1,323.5 262.6,330.0 271.1,312.4 279.7,294.0 288.2,275.5 296.7,267.0 305.3,285.6 313.8,312.4 322.3,332.4 330.9,334.0 339.4,335.4 347.9,352.7 356.5,361.3 365.0,371.0 373.6,353.7 382.1,360.0 390.6,364.0 399.2,362.0 407.7,341.3 416.2,313.5 424.8,293.5 433.3,275.0 441.8,284.7 450.4,313.7 458.9,331.0 467.4,341.0 476.0,351.0 484.5,361.0 493.1,364.0 501.6,368.6 510.1,362.0 518.7,354.7 527.2,333.0 535.7,322.4 544.3,303.3 552.8,284.5 561.3,284.5 569.9,284.5 578.4,294.8 586.9,333.1 595.5,351.0 604.0,360.6 612.6,369.0 621.1,369.0 629.6,370.0 638.2,371.0 646.7,353.0 655.2,322.4 663.8,323.6 672.3,324.5 680.8,315.8 689.4,307.0 697.9,283.6 706.4,276.2 715.0,284.0 723.5,303.0 732.1,313.0 740.6,325.0 749.1,332.2 757.7,341.0 766.2,341.0 774.7,352.0 783.3,332.5 791.8,303.8 800.3,313.5 808.9,325.0 817.4,323.4 825.9,323.0 834.5,313.7 843.0,304.8 851.6,295.0 860.1,294.5 868.6,305.0 877.2,314.7 885.7,323.7 896.2,334.5 906.8,328.0 912.3,321.3 919.8,313.6 928.4,285.0 936.9,294.2 945.4,318.0 954.0,316.5 962.5,325.5 969.1,317.5 979.6,305.0 988.1,304.7 996.7,323.0 1005.2,326.0 1013.7,332.0"/>
<g stroke="#1a0000" stroke-width="0.75" stroke-linejoin="miter">
<polygon points="46.3,360.3 66.3,349.8 66.3,355.5 86.3,355.5 86.3,365.1 66.3,365.1 66.3,370.8" fill="#ff0000"/>
<polygon points="56.5,367.1 70.5,349.4 72.9,354.6 91.1,346.5 95.0,355.3 76.8,363.4 79.1,368.6" fill="#ff0000"/>
<polygon points="65.2,370.1 78.9,352.1 81.3,357.2 99.4,348.8 103.5,357.5 85.4,366.0 87.8,371.1" fill="#ff0000"/>
<polygon points="73.7,370.0 87.4,352.0 89.8,357.1 108.0,348.7 112.0,357.4 93.9,365.9 96.3,371.0" fill="#ff0000"/>
<polygon points="86.5,366.2 92.9,344.5 97.0,348.5 110.9,334.1 117.8,340.7 103.9,355.1 108.0,359.1" fill="#ff0000"/>
<polygon points="93.6,337.3 102.2,316.4 105.9,320.7 121.2,307.9 127.4,315.2 112.0,328.1 115.7,332.4" fill="#ff0000"/>
<polygon points="115.7,335.9 107.0,315.1 112.7,315.6 114.4,295.7 124.0,296.5 122.3,316.4 127.9,316.9" fill="#ff0000"/>
<polygon points="133.5,326.0 116.3,311.4 121.6,309.3 114.1,290.8 123.0,287.2 130.5,305.7 135.8,303.6" fill="#ff0000"/>
<polygon points="153.5,301.5 131.1,304.9 133.0,299.5 114.1,293.0 117.2,284.0 136.1,290.5 138.0,285.1" fill="#ffff00"/>
<polygon points="161.6,267.0 147.0,284.2 144.9,279.0 126.3,286.4 122.7,277.5 141.3,270.0 139.2,264.8" fill="#ffff00"/>
<polygon points="169.8,257.0 156.1,275.0 153.7,269.9 135.5,278.3 131.5,269.6 149.6,261.1 147.2,256.0" fill="#ffff00"/>
<polygon points="174.8,254.4 167.3,275.7 163.4,271.5 148.8,285.2 142.3,278.1 156.9,264.5 153.0,260.3" fill="#ffff00"/>
<polygon points="183.3,262.1 175.9,283.4 172.0,279.2 157.3,292.9 150.8,285.8 165.4,272.2 161.5,268.0" fill="#ffff00"/>
<polygon points="191.6,299.8 184.5,321.3 180.6,317.2 166.2,331.0 159.5,324.1 173.9,310.2 169.9,306.1" fill="#ff0000"/>
<polygon points="200.2,306.8 193.1,328.3 189.1,324.2 174.7,338.0 168.0,331.1 182.4,317.2 178.5,313.1" fill="#ff0000"/>
<polygon points="202.4,305.5 203.9,328.1 198.7,325.8 190.6,344.0 181.8,340.1 189.9,321.8 184.7,319.5" fill="#ff0000"/>
<polygon points="212.2,315.3 212.1,337.9 207.1,335.3 197.7,352.9 189.2,348.4 198.6,330.7 193.6,328.1" fill="#ff0000"/>
<polygon points="210.2,321.3 220.7,341.3 215.0,341.3 215.0,361.3 205.4,361.3 205.4,341.3 199.7,341.3" fill="#ff0000"/>
<polygon points="219.7,321.0 230.2,341.0 224.5,341.0 224.5,361.0 214.9,361.0 214.9,341.0 209.2,341.0" fill="#ff0000"/>
<polygon points="229.2,321.0 239.7,341.0 234.0,341.0 234.0,361.0 224.4,361.0 224.4,341.0 218.7,341.0" fill="#ff0000"/>
<polygon points="237.0,313.5 247.5,333.5 241.8,333.5 241.8,353.5 232.2,353.5 232.2,333.5 226.5,333.5" fill="#ff0000"/>
<polygon points="245.5,294.0 256.0,314.0 250.3,314.0 250.3,334.0 240.7,334.0 240.7,314.0 235.0,314.0" fill="#ff0000"/>
<polygon points="255.8,303.6 264.5,324.4 258.8,323.9 257.1,343.8 247.5,343.0 249.3,323.1 243.6,322.6" fill="#ff0000"/>
<polygon points="268.1,310.8 272.7,332.9 267.2,331.3 261.7,350.5 252.5,347.9 258.0,328.7 252.5,327.1" fill="#ff0000"/>
<polygon points="281.1,295.1 280.2,317.6 275.3,314.8 265.3,332.1 257.0,327.3 267.0,310.0 262.0,307.1" fill="#ff0000"/>
<polygon points="293.0,279.1 287.5,301.0 283.2,297.2 269.8,312.1 262.7,305.7 276.1,290.8 271.9,287.0" fill="#ffff00"/>
<polygon points="302.1,261.1 295.7,282.8 291.6,278.8 277.8,293.2 270.9,286.6 284.7,272.2 280.6,268.2" fill="#ffff00"/>
<polygon points="311.1,253.1 304.0,274.6 300.1,270.5 285.7,284.3 279.0,277.4 293.4,263.5 289.4,259.4" fill="#ffff00"/>
<polygon points="319.4,271.5 312.7,293.0 308.7,289.0 294.5,303.1 287.7,296.3 301.9,282.2 297.8,278.2" fill="#ffff00"/>
<polygon points="329.1,299.5 320.6,320.4 316.9,316.1 301.6,328.9 295.4,321.6 310.7,308.7 307.1,304.4" fill="#ff0000"/>
<polygon points="330.8,314.3 331.9,336.8 326.7,334.4 318.2,352.6 309.5,348.5 318.0,330.4 312.8,328.0" fill="#ff0000"/>
<polygon points="335.0,314.4 341.1,336.2 335.6,335.0 331.4,354.6 322.0,352.6 326.2,333.0 320.6,331.8" fill="#ff0000"/>
<polygon points="340.1,315.4 349.9,335.8 344.2,335.6 343.5,355.6 333.9,355.2 334.6,335.2 328.9,335.0" fill="#ff0000"/>
<polygon points="347.9,332.7 358.4,352.7 352.7,352.7 352.7,372.7 343.1,372.7 343.1,352.7 337.4,352.7" fill="#ff0000"/>
<polygon points="356.5,341.3 367.0,361.3 361.3,361.3 361.3,381.3 351.7,381.3 351.7,361.3 346.0,361.3" fill="#ff0000"/>
<polygon points="365.0,351.0 375.5,371.0 369.8,371.0 369.8,391.0 360.2,391.0 360.2,371.0 354.5,371.0" fill="#ff0000"/>
<polygon points="373.6,333.7 384.1,353.7 378.4,353.7 378.4,373.7 368.8,373.7 368.8,353.7 363.1,353.7" fill="#ff0000"/>
<polygon points="381.4,340.0 392.6,359.6 386.9,359.8 387.6,379.8 378.0,380.2 377.3,360.2 371.6,360.4" fill="#ff0000"/>
<polygon points="404.8,349.9 398.0,371.4 394.0,367.4 379.9,381.5 373.1,374.7 387.2,360.6 383.2,356.6" fill="#ff0000"/>
<polygon points="412.3,346.9 407.1,368.9 402.8,365.1 389.7,380.2 382.4,373.9 395.5,358.9 391.2,355.1" fill="#ff0000"/>
<polygon points="426.2,333.8 411.6,351.0 409.5,345.8 391.0,353.2 387.4,344.3 405.9,336.8 403.8,331.6" fill="#ff0000"/>
<polygon points="435.0,306.7 419.8,323.4 417.9,318.0 399.1,324.9 395.8,315.8 414.6,309.0 412.6,303.6" fill="#ff0000"/>
<polygon points="442.9,285.0 429.2,303.0 426.8,297.9 408.7,306.3 404.6,297.6 422.7,289.1 420.3,284.0" fill="#ffff00"/>
<polygon points="452.1,268.2 436.9,284.9 434.9,279.5 416.2,286.4 412.9,277.3 431.7,270.5 429.7,265.1" fill="#ffff00"/>
<polygon points="460.4,277.2 445.8,294.4 443.6,289.2 425.1,296.6 421.5,287.7 440.0,280.2 437.9,275.0" fill="#ffff00"/>
<polygon points="464.8,299.8 457.7,321.3 453.7,317.2 439.3,331.0 432.7,324.1 447.0,310.2 443.1,306.1" fill="#ff0000"/>
<polygon points="474.0,317.9 465.8,338.9 462.1,334.6 447.0,347.7 440.7,340.5 455.8,327.4 452.0,323.1" fill="#ff0000"/>
<polygon points="482.3,327.6 474.5,348.8 470.7,344.6 455.8,357.9 449.4,350.8 464.2,337.4 460.4,333.2" fill="#ff0000"/>
<polygon points="490.8,337.6 483.0,358.8 479.2,354.6 464.3,367.9 457.9,360.8 472.8,347.4 469.0,343.2" fill="#ff0000"/>
<polygon points="498.7,346.9 491.9,368.4 487.9,364.4 473.8,378.5 467.0,371.7 481.1,357.6 477.1,353.6" fill="#ff0000"/>
<polygon points="505.9,348.7 501.1,370.7 496.7,367.1 483.9,382.4 476.5,376.2 489.4,360.9 485.0,357.3" fill="#ff0000"/>
<polygon points="513.1,352.2 510.2,374.6 505.5,371.4 494.0,387.7 486.2,382.2 497.7,365.8 493.0,362.6" fill="#ff0000"/>
<polygon points="522.4,346.2 518.4,368.5 513.9,365.0 501.6,380.7 494.0,374.8 506.3,359.0 501.9,355.5" fill="#ff0000"/>
<polygon points="529.3,337.7 527.6,360.3 522.7,357.2 512.1,374.2 504.0,369.1 514.6,352.2 509.8,349.1" fill="#ff0000"/>
<polygon points="546.1,326.5 530.6,342.9 528.8,337.5 509.8,344.0 506.7,335.0 525.6,328.5 523.8,323.1" fill="#ff0000"/>
<polygon points="554.3,314.9 539.7,332.1 537.5,326.9 519.0,334.3 515.4,325.4 533.9,317.9 531.8,312.7" fill="#ff0000"/>
<polygon points="562.9,296.1 548.0,313.1 546.0,307.8 527.3,314.9 523.9,306.0 542.5,298.8 540.5,293.5" fill="#ff0000"/>
<polygon points="571.8,278.3 556.0,294.5 554.3,289.1 535.3,295.2 532.3,286.1 551.3,279.9 549.6,274.5" fill="#ffff00"/>
<polygon points="580.4,278.3 564.6,294.5 562.8,289.1 543.8,295.2 540.8,286.1 559.9,279.9 558.1,274.5" fill="#ffff00"/>
<polygon points="588.9,278.3 573.1,294.5 571.4,289.1 552.3,295.2 549.4,286.1 568.4,279.9 566.6,274.5" fill="#ffff00"/>
<polygon points="597.1,287.6 582.2,304.6 580.1,299.3 561.5,306.4 558.0,297.5 576.7,290.3 574.6,285.0" fill="#ffff00"/>
<polygon points="605.6,325.8 590.8,342.9 588.7,337.6 570.1,344.9 566.6,336.0 585.2,328.6 583.1,323.3" fill="#ff0000"/>
<polygon points="614.4,344.5 598.9,360.9 597.0,355.5 578.1,362.0 575.0,353.0 593.9,346.5 592.1,341.1" fill="#ff0000"/>
<polygon points="622.8,353.8 607.6,370.5 605.7,365.1 586.9,372.0 583.6,362.9 602.4,356.1 600.4,350.7" fill="#ff0000"/>
<polygon points="631.0,361.2 616.7,378.7 614.4,373.4 596.0,381.2 592.3,372.4 610.7,364.6 608.5,359.3" fill="#ff0000"/>
<polygon points="633.9,353.7 629.1,375.7 624.8,372.1 611.9,387.4 604.6,381.2 617.4,365.9 613.0,362.3" fill="#ff0000"/>
<polygon points="641.7,354.0 638.0,376.3 633.5,372.9 621.4,388.9 613.8,383.1 625.8,367.1 621.2,363.7" fill="#ff0000"/>
<polygon points="649.6,354.6 646.8,377.0 642.1,373.8 630.6,390.1 622.8,384.6 634.2,368.2 629.6,365.0" fill="#ff0000"/>
<polygon points="651.9,333.7 656.8,355.7 651.3,354.2 646.2,373.6 636.9,371.1 642.1,351.8 636.6,350.3" fill="#ff0000"/>
<polygon points="662.7,303.9 665.0,326.3 659.7,324.2 652.2,342.7 643.3,339.1 650.8,320.6 645.5,318.5" fill="#ff0000"/>
<polygon points="671.3,305.1 673.5,327.5 668.2,325.4 660.7,343.9 651.8,340.3 659.3,321.8 654.0,319.7" fill="#ff0000"/>
<polygon points="686.2,310.1 679.9,331.8 675.8,327.8 661.9,342.2 655.0,335.6 668.9,321.2 664.8,317.2" fill="#ff0000"/>
<polygon points="694.7,301.4 688.4,323.1 684.3,319.1 670.4,333.5 663.5,326.9 677.4,312.5 673.3,308.5" fill="#ff0000"/>
<polygon points="703.3,292.6 696.9,314.3 692.8,310.3 678.9,324.7 672.0,318.1 685.9,303.7 681.8,299.7" fill="#ff0000"/>
<polygon points="711.8,269.2 705.5,290.9 701.4,286.9 687.5,301.3 680.6,294.7 694.5,280.3 690.4,276.3" fill="#ffff00"/>
<polygon points="721.3,262.8 713.5,284.0 709.7,279.8 694.8,293.1 688.4,286.0 703.2,272.6 699.4,268.4" fill="#ffff00"/>
<polygon points="729.8,270.6 722.0,291.8 718.2,287.6 703.3,300.9 696.9,293.8 711.8,280.4 708.0,276.2" fill="#ffff00"/>
<polygon points="731.3,284.6 733.2,307.1 727.9,304.9 720.1,323.3 711.3,319.5 719.1,301.1 713.9,298.9" fill="#ff0000"/>
<polygon points="740.2,294.7 741.6,317.3 736.4,315.0 728.3,333.2 719.5,329.3 727.7,311.0 722.5,308.7" fill="#ff0000"/>
<polygon points="744.1,305.3 750.9,326.8 745.3,325.8 741.8,345.5 732.4,343.9 735.9,324.2 730.2,323.2" fill="#ff0000"/>
<polygon points="749.1,312.2 759.6,332.2 753.9,332.2 753.9,352.2 744.3,352.2 744.3,332.2 738.6,332.2" fill="#ff0000"/>
<polygon points="757.7,321.0 768.2,341.0 762.5,341.0 762.5,361.0 752.9,361.0 752.9,341.0 747.2,341.0" fill="#ff0000"/>
<polygon points="766.2,321.0 776.7,341.0 771.0,341.0 771.0,361.0 761.4,361.0 761.4,341.0 755.7,341.0" fill="#ff0000"/>
<polygon points="774.7,332.0 785.2,352.0 779.5,352.0 779.5,372.0 769.9,372.0 769.9,352.0 764.2,352.0" fill="#ff0000"/>
<polygon points="776.4,313.7 793.1,328.9 787.8,330.9 794.6,349.7 785.6,352.9 778.8,334.1 773.4,336.1" fill="#ff0000"/>
<polygon points="784.3,285.3 801.5,299.9 796.3,302.0 803.7,320.5 794.8,324.1 787.4,305.6 782.1,307.7" fill="#ff0000"/>
<polygon points="792.8,295.0 810.1,309.6 804.8,311.7 812.3,330.2 803.4,333.8 795.9,315.3 790.6,317.4" fill="#ff0000"/>
<polygon points="797.4,308.6 817.5,319.0 812.8,322.2 824.3,338.6 816.4,344.1 804.9,327.8 800.3,331.0" fill="#ff0000"/>
<polygon points="811.2,304.4 827.4,320.2 822.0,321.9 828.2,340.9 819.0,343.9 812.8,324.9 807.4,326.6" fill="#ff0000"/>
<polygon points="820.8,303.7 836.1,320.3 830.6,321.8 835.8,341.1 826.5,343.6 821.3,324.2 815.8,325.7" fill="#ff0000"/>
<polygon points="834.5,293.7 845.0,313.7 839.3,313.7 839.3,333.7 829.7,333.7 829.7,313.7 824.0,313.7" fill="#ff0000"/>
<polygon points="843.0,284.8 853.5,304.8 847.8,304.8 847.8,324.8 838.2,324.8 838.2,304.8 832.5,304.8" fill="#ff0000"/>
<polygon points="851.6,275.0 862.1,295.0 856.4,295.0 856.4,315.0 846.8,315.0 846.8,295.0 841.1,295.0" fill="#ffff00"/>
<polygon points="867.6,276.0 869.8,298.4 864.5,296.3 857.0,314.8 848.1,311.2 855.6,292.7 850.4,290.6" fill="#ffff00"/>
<polygon points="868.6,285.0 879.1,305.0 873.4,305.0 873.4,325.0 863.8,325.0 863.8,305.0 858.1,305.0" fill="#ff0000"/>
<polygon points="877.2,294.7 887.7,314.7 882.0,314.7 882.0,334.7 872.4,334.7 872.4,314.7 866.7,314.7" fill="#ff0000"/>
<polygon points="880.2,304.5 895.8,320.8 890.3,322.4 895.8,341.6 886.6,344.2 881.1,325.0 875.6,326.6" fill="#ff0000"/>
<polygon points="889.4,315.7 906.1,330.9 900.7,332.9 907.6,351.7 898.6,354.9 891.7,336.1 886.4,338.1" fill="#ff0000"/>
<polygon points="897.7,310.2 916.1,323.2 911.0,325.8 920.1,343.6 911.6,348.0 902.5,330.2 897.4,332.8" fill="#ff0000"/>
<polygon points="900.0,305.5 920.6,314.8 916.1,318.3 928.4,334.1 920.8,340.0 908.5,324.3 904.0,327.8" fill="#ff0000"/>
<polygon points="901.3,306.1 923.8,303.9 921.6,309.1 940.2,316.6 936.6,325.5 918.0,318.1 915.9,323.3" fill="#ff0000"/>
<polygon points="909.8,277.5 932.3,275.3 930.2,280.5 948.7,288.0 945.1,296.9 926.6,289.5 924.4,294.7" fill="#ffff00"/>
<polygon points="918.6,286.1 941.2,284.6 938.9,289.8 957.1,297.9 953.2,306.7 935.0,298.6 932.6,303.8" fill="#ffff00"/>
<polygon points="929.5,306.0 951.8,309.6 948.3,314.2 964.3,326.2 958.5,333.9 942.6,321.8 939.1,326.4" fill="#ff0000"/>
<polygon points="937.6,305.0 960.0,307.9 956.7,312.6 973.1,324.0 967.6,331.9 951.2,320.4 948.0,325.1" fill="#ff0000"/>
<polygon points="950.2,309.7 970.8,319.0 966.3,322.5 978.6,338.3 971.0,344.2 958.7,328.5 954.2,332.0" fill="#ff0000"/>
<polygon points="958.5,300.5 978.0,311.9 973.1,315.0 983.7,331.9 975.6,337.0 965.0,320.0 960.1,323.1" fill="#ff0000"/>
<polygon points="973.4,286.0 989.6,301.8 984.2,303.5 990.3,322.5 981.2,325.5 975.0,306.5 969.6,308.2" fill="#ff0000"/>
<polygon points="981.3,285.9 998.0,301.1 992.6,303.1 999.5,321.9 990.5,325.1 983.6,306.3 978.3,308.3" fill="#ff0000"/>
<polygon points="996.7,303.0 1007.2,323.0 1001.5,323.0 1001.5,343.0 991.9,343.0 991.9,323.0 986.2,323.0" fill="#ff0000"/>
<polygon points="1001.7,306.3 1015.5,324.2 1009.9,325.2 1013.4,344.9 1003.9,346.5 1000.5,326.8 994.9,327.8" fill="#ff0000"/>
<polygon points="1006.9,313.2 1023.6,328.4 1018.2,330.4 1025.1,349.2 1016.1,352.4 1009.2,333.6 1003.9,335.6" fill="#ff0000"/>
</g>
</svg></body></html>
